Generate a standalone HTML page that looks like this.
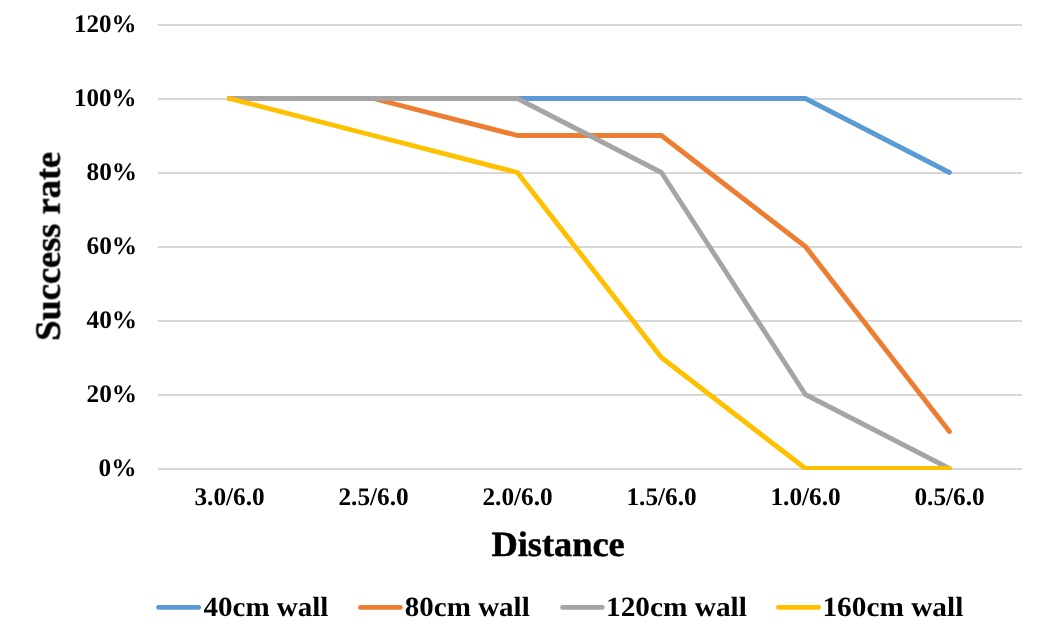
<!DOCTYPE html>
<html><head><meta charset="utf-8">
<style>
html,body{margin:0;padding:0;background:#fff;}
body{width:1045px;height:642px;overflow:hidden;}
svg{display:block;}
text{font-family:"Liberation Serif",serif;font-weight:bold;fill:#000;text-rendering:geometricPrecision;}
.t{opacity:0.999;}
</style></head><body>
<svg width="1045" height="642" viewBox="0 0 1045 642">
<rect width="1045" height="642" fill="#fff"/>
<g stroke="#D7D7D7" stroke-width="2" fill="none">
<line x1="158" x2="1022" y1="25" y2="25"/>
<line x1="158" x2="1022" y1="99" y2="99"/>
<line x1="158" x2="1022" y1="173" y2="173"/>
<line x1="158" x2="1022" y1="247" y2="247"/>
<line x1="158" x2="1022" y1="321" y2="321"/>
<line x1="158" x2="1022" y1="395" y2="395"/>
<line x1="158" x2="1022" y1="469" y2="469"/>
</g>
<defs><clipPath id="pc"><rect x="150" y="0" width="880" height="470"/></clipPath></defs>
<g fill="none" stroke-width="4.9" stroke-linecap="round" stroke-linejoin="round" clip-path="url(#pc)">
<polyline stroke="#5B9BD5" points="229.4,98.5 373.4,98.5 517.4,98.5 661.4,98.5 805.4,98.5 949.4,172.5"/>
<polyline stroke="#ED7D31" points="229.4,98.5 373.4,98.5 517.4,135.5 661.4,135.5 805.4,246.5 949.4,431.5"/>
<polyline stroke="#A5A5A5" points="229.4,98.5 373.4,98.5 517.4,98.5 661.4,172.5 805.4,394.5 949.4,468.5"/>
<polyline stroke="#FFC000" points="229.4,98.5 373.4,135.5 517.4,172.5 661.4,357.5 805.4,468.5 949.4,468.5"/>
</g>
<g class="t">
<g font-size="25.3" text-anchor="end">
<text transform="translate(136.5,31.75) scale(0.988,1)">120%</text>
<text transform="translate(136.5,105.75) scale(0.988,1)">100%</text>
<text x="137.1" y="179.75">80%</text>
<text x="137.1" y="253.75">60%</text>
<text x="137.1" y="327.75">40%</text>
<text x="137.1" y="401.75">20%</text>
<text x="136.5" y="475.75">0%</text>
</g>
<g font-size="25.3" text-anchor="middle">
<text x="229.6" y="504.7">3.0/6.0</text>
<text x="373.6" y="504.7">2.5/6.0</text>
<text x="517.6" y="504.7">2.0/6.0</text>
<text x="661.6" y="504.7">1.5/6.0</text>
<text x="805.6" y="504.7">1.0/6.0</text>
<text x="949.6" y="504.7">0.5/6.0</text>
</g>
<text transform="translate(558.1,556.0) scale(1.024,1)" font-size="35.5" text-anchor="middle" stroke="#000" stroke-width="0.5">Distance</text>
<text transform="translate(59.7,246.3) rotate(-90) scale(1.024,1)" font-size="35.5" text-anchor="middle" stroke="#000" stroke-width="0.5">Success rate</text>
<g fill="none" stroke-width="4.6" stroke-linecap="round">
<line stroke="#5B9BD5" x1="158.5" x2="198.8" y1="607.4" y2="607.4"/>
<line stroke="#ED7D31" x1="360.4" x2="400.4" y1="607.4" y2="607.4"/>
<line stroke="#A5A5A5" x1="562.5" x2="602.4" y1="607.4" y2="607.4"/>
<line stroke="#FFC000" x1="778.3" x2="818.7" y1="607.4" y2="607.4"/>
</g>
<g font-size="27.8">
<text transform="translate(203.5,615.6) scale(1.044,1)">40cm wall</text>
<text transform="translate(404.8,615.6) scale(1.044,1)">80cm wall</text>
<text transform="translate(606,615.6) scale(1.055,1)">120cm wall</text>
<text transform="translate(822.4,615.6) scale(1.055,1)">160cm wall</text>
</g>
</g>
</svg>
</body></html>
